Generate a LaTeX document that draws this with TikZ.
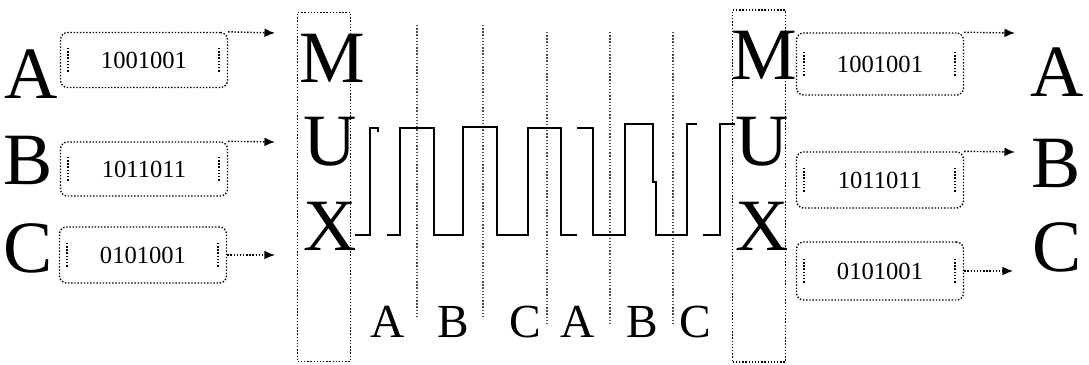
\documentclass[tikz,border=0pt]{standalone}
\usepackage{fontspec}
\setmainfont{Liberation Serif}
\usetikzlibrary{arrows.meta}

\tikzset{
  bigletter/.style={font=\fontsize{42}{42}\selectfont, inner sep=0pt},
  slotletter/.style={font=\fontsize{27}{27}\selectfont, inner sep=0pt},
  bits/.style={draw, densely dotted, thick, rounded corners=4pt,
    font=\fontsize{14}{14}\selectfont, minimum width=3.34cm, inner sep=0pt},
  muxbox/.style={draw, densely dotted, thick, minimum width=1.05cm, inner sep=0pt},
  link/.style={densely dotted, thick, -{Latex[length=6pt,width=5pt]}},
  signal/.style={line width=1.1pt},
}

\begin{document}
\begin{tikzpicture}[x=0.02cm, y=-0.02cm]
  \useasboundingbox (0,0) rectangle (1089,365);

  % Inputs
  \node[bigletter] (inA) at (31,74) {A};
  \node[bigletter] (inB) at (28,160) {B};
  \node[bigletter] (inC) at (28,248) {C};
  \node[bits, minimum height=1.1cm]  (boxA) at (144,60)  {1001001};
  \node[bits, minimum height=1.08cm] (boxB) at (144,169) {1011011};
  \node[bits, minimum height=1.12cm] (boxC) at (143,255) {0101001};
  \coordinate (toA) at (275,33);
  \coordinate (toB) at (275,142);
  \coordinate (toC) at (275,255);

  % Multiplexers
  \node[muxbox, minimum height=6.98cm] (muxL) at (324,187) {};
  \node[muxbox, minimum height=7.04cm] (muxR) at (759,186) {};
  \node[bigletter] (mL) at (332,58)  {M};
  \node[bigletter] (uL) at (330,142) {U};
  \node[bigletter] (xL) at (330,226) {X};
  \node[bigletter] (mR) at (764,55)  {M};
  \node[bigletter] (uR) at (762,142) {U};
  \node[bigletter] (xR) at (762,226) {X};

  % Outputs
  \node[bits, minimum height=1.24cm] (outboxA) at (880,64)  {1001001};
  \node[bits, minimum height=1.12cm] (outboxB) at (880,180) {1011011};
  \node[bits, minimum height=1.16cm] (outboxC) at (880,271) {0101001};
  \node[bigletter] (outA) at (1057,72)  {A};
  \node[bigletter] (outB) at (1056,163) {B};
  \node[bigletter] (outC) at (1057,247) {C};
  \coordinate (fromA) at (1015,33);
  \coordinate (fromB) at (1015,152);
  \coordinate (fromC) at (1013,271);

  \foreach \b in {boxA,boxB,boxC,outboxA,outboxB,outboxC}
    \draw[densely dotted, thick] ([shift={(8,-12)}]\b.west) -- ([shift={(8,12)}]\b.west)
      ([shift={(-9,-12)}]\b.east) -- ([shift={(-9,12)}]\b.east);

  \draw[link] (boxA.north east) -- (toA);
  \draw[link] (boxB.north east) -- (toB);
  \draw[link] (boxC.east) -- (toC);
  \draw[link] (outboxA.north east) -- (fromA);
  \draw[link] (outboxB.north east) -- (fromB);
  \draw[link] (outboxC.east) -- (fromC);

  % Time slots
  \foreach \x/\t/\e in {417/25/317, 483/25/317, 547/32/325, 610/32/325, 673/32/325}
    \draw[densely dotted, thick, black!70] (\x,\t) -- (\x,\e);
  \node[slotletter] (s1) at (388,322) {A};
  \node[slotletter] (s2) at (453,322) {B};
  \node[slotletter] (s3) at (525,322) {C};
  \node[slotletter] (s4) at (578,322) {A};
  \node[slotletter] (s5) at (642,322) {B};
  \node[slotletter] (s6) at (695,322) {C};

  % Signal
  \draw[signal] (355,235) -| (370,128) -- (378,128) -- (378,132);
  \draw[signal] (387,235) -| (400,128) -| (434,235) -| (463,127) -| (497,235)
    -| (528,128) -| (561,235) -- (577,235);
  \draw[signal] (577,128) -| (593,235) -| (625,124) -| (653,182) -- (656,182)
    -- (656,235) -| (687,124) -- (697,124);
  \draw[signal] (703,235) -| (720,124) -- (735,124);
\end{tikzpicture}
\end{document}
